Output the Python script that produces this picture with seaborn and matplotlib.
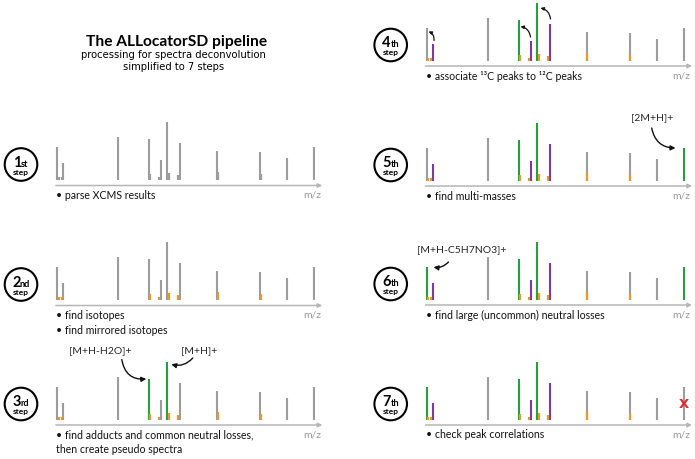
import numpy as np
import pandas as pd
import matplotlib
matplotlib.use("Agg")
import matplotlib.pyplot as plt
import seaborn as sns
from matplotlib.patches import Circle
from matplotlib import font_manager

# ---------------- data ----------------
peak_mz = [0, 5.5, 61, 92, 103.5, 110, 122.5, 160, 202.5, 229.5, 257]
peak_int = [33, 17, 43, 41, 20, 58, 37, 29, 28, 22, 33]
iso_mz = [1.2, 4.4, 92.8, 102.0, 111.8, 120.8, 160.3, 203.3]
iso_int = [3, 3, 6, 3, 7, 5, 8, 6]

step_numbers = ["1", "2", "3", "4", "5", "6", "7"]
step_suffix = ["st", "nd", "rd", "th", "th", "th", "th"]
step_texts = [
    ["• parse XCMS results"],
    ["• find isotopes", "• find mirrored isotopes"],
    ["• find adducts and common neutral losses,", "then create pseudo spectra"],
    ["• associate \u00b9\u00b3C peaks to \u00b9\u00b2C peaks"],
    ["• find multi-masses"],
    ["• find large (uncommon) neutral losses"],
    ["• check peak correlations"],
]
G, N, P = "g", "n", "p"
step_roles = [
    [G] * 11,
    [G] * 11,
    [G, G, G, N, G, N, G, G, G, G, G],
    [G, P, G, N, P, N, P, G, G, G, G],
    [G, P, G, N, P, N, P, G, G, G, N],
    [N, P, G, N, P, N, P, G, G, G, N],
    [N, P, G, N, P, N, P, G, G, G, G],
]
iso_colored = [False, True, True, True, True, True, True]

title = "The ALLocatorSD pipeline"
subtitle = ["processing for spectra deconvolution", "simplified to 7 steps"]

# ---------------- style ----------------
sns.set_theme(style="white")
names = {f.name for f in font_manager.fontManager.ttflist}
body_font = "Lato" if "Lato" in names else "DejaVu Sans"
narrow_font = "Liberation Sans Narrow" if "Liberation Sans Narrow" in names else None
plt.rcParams["font.family"] = [body_font, "DejaVu Sans"]

GRAY = "#9c9c9c"
AXIS = "#b5b5b5"
GREEN = "#25a03c"
PURPLE = "#7d3a9c"
ORANGE = "#e79a2c"
RED = "#e2262d"
role_color = {G: GRAY, N: GREEN, P: PURPLE}

W, H = 695, 459
fig = plt.figure(figsize=(W / 100, H / 100), dpi=100)

XL, XR = -56, 272
YB, YT = -36, 74

# origin (x of first peak) and baseline (y from top) per step, in pixels
layout = [
    (57.3, 180.0),
    (57.3, 300.0),
    (57.3, 419.5),
    (427.0, 60.5),
    (427.0, 180.5),
    (427.0, 299.5),
    (427.0, 419.5),
]

df_peaks = pd.DataFrame({"mz": peak_mz, "intensity": peak_int})
df_iso = pd.DataFrame({"mz": iso_mz, "intensity": iso_int})

axes = []
for i, (ox, base) in enumerate(layout):
    left = ox + XL
    bottom = H - (base - YB)
    ax = fig.add_axes([left / W, bottom / H, (XR - XL) / W, (YT - YB) / H])
    ax.set_xlim(XL, XR)
    ax.set_ylim(YB, YT)
    ax.axis("off")
    axes.append(ax)

    roles = step_roles[i]
    cols = [role_color[r] for r in roles]
    order = sorted(range(len(roles)), key=lambda k: roles[k] != G)
    for k in order:
        ax.vlines(df_peaks.mz[k], 0, df_peaks.intensity[k], color=cols[k], lw=1.5)
    icol = ORANGE if iso_colored[i] else GRAY
    ax.vlines(df_iso.mz, 0, df_iso.intensity, color=icol, lw=1.6)

    # m/z axis arrow
    ax.annotate("", xy=(265, -5.5), xytext=(-1.5, -5.5),
                arrowprops=dict(arrowstyle="-|>", color=AXIS, lw=1.1,
                                mutation_scale=6, shrinkA=0, shrinkB=0))
    ax.text(254.5, -15.5, "m/z", color="#999999", fontsize=7.5,
            ha="center", va="center")

    # step text
    for j, line in enumerate(step_texts[i]):
        ax.text(-1.5, -15.5 - 14.5 * j, line, fontsize=7.6, color="#111111",
                ha="left", va="center")

    # step circle
    cx = -36.3
    ax.add_patch(Circle((cx, 15.5), 16.3, fill=False, ec="black", lw=1.5,
                        clip_on=False))
    ax.text(cx - 4.2, 13.3, step_numbers[i], fontsize=10.5, fontweight="bold",
            ha="center", va="baseline", color="black")
    ax.text(cx + 4.0, 13.3, step_suffix[i], fontsize=6.6, fontweight="bold",
            ha="center", va="baseline", color="black")
    ax.text(cx, 8.0, "step", fontsize=6.0, fontweight="bold",
            ha="center", va="center", color="black")

arrow_kw = dict(arrowstyle="-|>", color="#111111", lw=1.0, mutation_scale=7,
                shrinkA=0, shrinkB=0)
small_arrow_kw = dict(arrowstyle="-|>", color="#111111", lw=0.9,
                      mutation_scale=4.5, shrinkA=0, shrinkB=0)

# step 3 annotations
ax3 = axes[2]
ax3.text(42.7, 69, "[M+H-H2O]+", fontsize=7.5, ha="center", va="center")
ax3.text(141.7, 69, "[M+H]+", fontsize=7.5, ha="center", va="center")
ax3.annotate("", xy=(89.0, 40.5), xytext=(64.5, 60),
             arrowprops=dict(connectionstyle="arc3,rad=0.45", **arrow_kw))
ax3.annotate("", xy=(114.0, 55.2), xytext=(135.5, 61.5),
             arrowprops=dict(connectionstyle="arc3,rad=-0.3", **arrow_kw))

# step 4 small arrows (13C -> 12C)
ax4 = axes[3]
for (x1, y1), (x2, y2) in [((7.0, 20.0), (1.5, 29.0)),
                           ((103.5, 23.5), (93.5, 34.0)),
                           ((123.5, 41.5), (113.5, 52.5))]:
    ax4.annotate("", xy=(x2, y2), xytext=(x1, y1),
                 arrowprops=dict(connectionstyle="arc3,rad=0.35", **small_arrow_kw))

# step 5 annotation
ax5 = axes[4]
ax5.text(224.7, 62.5, "[2M+H]+", fontsize=7.5, ha="center", va="center")
ax5.annotate("", xy=(248.5, 32.5), xytext=(224.7, 52.5),
             arrowprops=dict(connectionstyle="arc3,rad=0.4", **arrow_kw))

# step 6 annotation
ax6 = axes[5]
ax6.text(34.7, 49.7, "[M+H-C5H7NO3]+", fontsize=7.5, ha="center", va="center")
ax6.annotate("", xy=(6.5, 32.3), xytext=(21.5, 37.5),
             arrowprops=dict(connectionstyle="arc3,rad=-0.25", **arrow_kw))

# step 7 red cross on the last peak
ax7 = axes[6]
ax7.text(peak_mz[-1], 14.5, "X", color=RED, fontsize=9.5, fontweight="bold",
         ha="center", va="center", family=["DejaVu Sans"])

# title
fig.text(176.5 / W, 1 - 41.7 / H, title, fontsize=11.2, fontweight="bold",
         ha="center", va="center", color="black")
sub_kw = dict(family=[narrow_font, "DejaVu Sans"]) if narrow_font else \
    dict(family=["DejaVu Sans"], fontstretch="condensed")
for j, line in enumerate(subtitle):
    fig.text(173.5 / W, 1 - (54.8 + 11.8 * j) / H, line, fontsize=8.0,
             ha="center", va="center", color="black", **sub_kw)

fig.savefig("out.png", dpi=100)
